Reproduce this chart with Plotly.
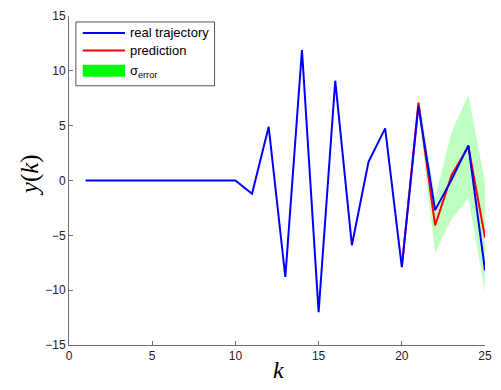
import plotly.graph_objects as go

# Time steps and measured output
k = list(range(1, 26))
y_real = [0, 0, 0, 0, 0, 0, 0, 0, 0, 0,
          -1.2, 4.9, -8.8, 11.9, -12.0, 9.1, -5.9, 1.7, 4.75, -7.9,
          6.8, -2.7, 0.1, 3.2, -8.2]

# Model prediction from k = 20 onward
k_pred = [20, 21, 22, 23, 24, 25]
y_pred = [-7.9, 7.1, -4.1, 0.5, 3.1, -5.2]

# Prediction error standard deviation for k = 21..25
k_sigma = [21, 22, 23, 24, 25]
sigma = [0.8, 2.5, 4.0, 4.7, 5.0]

pred_at = dict(zip(k_pred, y_pred))
upper = [pred_at[t] + s for t, s in zip(k_sigma, sigma)]
lower = [pred_at[t] - s for t, s in zip(k_sigma, sigma)]

fig = go.Figure()

# error band
fig.add_trace(go.Scatter(
    x=k_sigma + k_sigma[::-1], y=upper + lower[::-1],
    fill="toself", fillcolor="rgba(0,255,0,0.25)",
    line=dict(width=0), mode="lines", hoverinfo="skip", showlegend=False))

fig.add_trace(go.Scatter(x=k_pred, y=y_pred, mode="lines",
                         line=dict(color="#ff0000", width=2), showlegend=False))
fig.add_trace(go.Scatter(x=k, y=y_real, mode="lines",
                         line=dict(color="#0000ff", width=2), showlegend=False))

W, H = 501, 390
L, R, T, B = 69, 9, 15, 45

axis_common = dict(showgrid=False, zeroline=False, showline=True,
                   linecolor="#6e6e6e", linewidth=1, ticks="inside",
                   ticklen=4, tickcolor="#6e6e6e", mirror=False,
                   tickfont=dict(family="Liberation Sans, Arial", size=12, color="#222"))

fig.update_layout(
    width=W, height=H,
    margin=dict(l=L, r=R, t=T, b=B),
    paper_bgcolor="white", plot_bgcolor="white",
    showlegend=False,
    xaxis=dict(range=[0, 25], dtick=5, tick0=0, **axis_common),
    yaxis=dict(range=[-15, 15], dtick=5, tick0=-15, **axis_common),
)

pw, ph = W - L - R, H - T - B
def px(x):
    return (x - L) / pw
def py(y):
    return 1 - (y - T) / ph

# axis titles
fig.add_annotation(text="<i>k</i>", xref="paper", yref="paper",
                   x=px(282), y=py(370), xanchor="center", yanchor="middle",
                   showarrow=False,
                   font=dict(family="Liberation Serif, DejaVu Serif", size=24, color="black"))
fig.add_annotation(text="<i>y</i>(<i>k</i>)", xref="paper", yref="paper",
                   x=px(29), y=py(175), textangle=-90, showarrow=False,
                   xanchor="center", yanchor="middle",
                   font=dict(family="Liberation Serif, DejaVu Serif", size=25, color="black"))

# legend box
fig.add_shape(type="rect", xref="paper", yref="paper",
              x0=px(76), x1=px(217), y0=py(21), y1=py(85),
              line=dict(color="#555", width=1), fillcolor="white", layer="above")

entries = [("real trajectory", "#0000ff", 32), ("prediction", "#ff0000", 49.5)]
for label, col, yy in entries:
    fig.add_shape(type="line", xref="paper", yref="paper",
                  x0=px(83), x1=px(126), y0=py(yy), y1=py(yy),
                  line=dict(color=col, width=2), layer="above")
    fig.add_annotation(text=label, xref="paper", yref="paper",
                       x=px(129), y=py(yy), xanchor="left", yanchor="middle",
                       showarrow=False,
                       font=dict(family="Liberation Sans, Arial", size=13, color="black"))

fig.add_shape(type="rect", xref="paper", yref="paper",
              x0=px(83), x1=px(126), y0=py(64), y1=py(76),
              line=dict(width=0), fillcolor="#00ff00", layer="above")
fig.add_annotation(text="σ<sub>error</sub>", xref="paper", yref="paper",
                   x=px(129), y=py(71), xanchor="left", yanchor="middle",
                   showarrow=False,
                   font=dict(family="Liberation Sans, Arial", size=13, color="black"))

fig.write_html("out.html")
